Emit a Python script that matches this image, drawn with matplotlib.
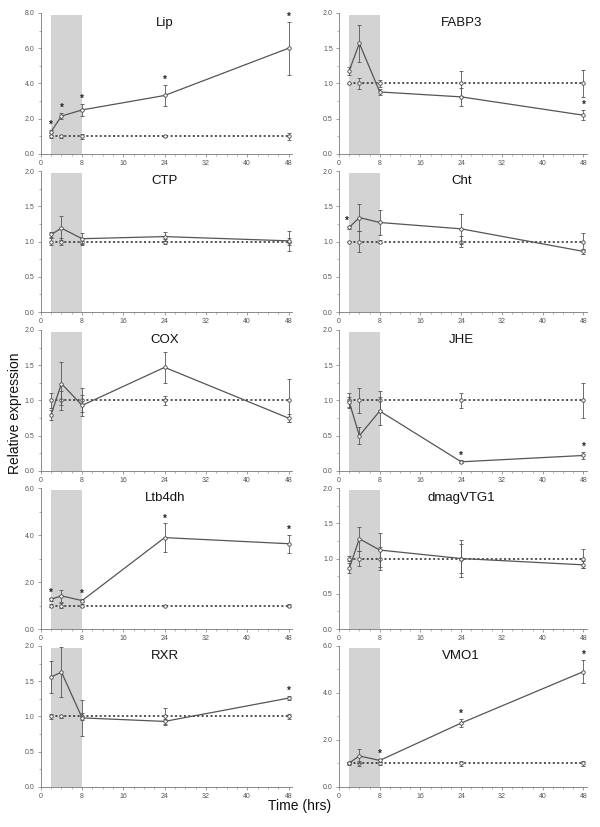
import matplotlib
matplotlib.use("Agg")
import matplotlib.pyplot as plt
from matplotlib.ticker import MultipleLocator, FormatStrFormatter

time_hrs = [2, 4, 8, 24, 48]
ctrl_mean = [1.0, 1.0, 1.0, 1.0, 1.0]
x_ticks = [0, 8, 16, 24, 32, 40, 48]

genes = ["Lip", "FABP3", "CTP", "Cht", "COX", "JHE", "Ltb4dh", "dmagVTG1", "RXR", "VMO1"]
y_max = [8.0, 2.0, 2.0, 2.0, 2.0, 2.0, 6.0, 2.0, 2.0, 6.0]

lip_mean = [1.27, 2.15, 2.5, 3.32, 6.0]
lip_err = [0.1, 0.18, 0.35, 0.6, 1.5]
lip_ctrl_err = [0.08, 0.1, 0.15, 0.04, 0.2]
lip_sig = [1, 1, 1, 1, 1]

fabp3_mean = [1.18, 1.57, 0.88, 0.81, 0.55]
fabp3_err = [0.06, 0.26, 0.04, 0.13, 0.07]
fabp3_ctrl_err = [0.01, 0.08, 0.05, 0.18, 0.19]
fabp3_sig = [0, 0, 0, 0, 1]

ctp_mean = [1.10, 1.19, 1.04, 1.07, 1.01]
ctp_err = [0.03, 0.17, 0.08, 0.06, 0.14]
ctp_ctrl_err = [0.05, 0.05, 0.05, 0.03, 0.05]
ctp_sig = [0, 0, 0, 0, 0]

cht_mean = [1.20, 1.34, 1.27, 1.18, 0.86]
cht_err = [0.02, 0.19, 0.18, 0.21, 0.04]
cht_ctrl_err = [0.01, 0.15, 0.02, 0.08, 0.12]
cht_sig = [1, 0, 0, 0, 0]

cox_mean = [0.80, 1.24, 0.93, 1.47, 0.75]
cox_err = [0.07, 0.3, 0.15, 0.22, 0.06]
cox_ctrl_err = [0.1, 0.13, 0.17, 0.07, 0.31]
cox_sig = [0, 0, 0, 0, 0]

jhe_mean = [0.98, 0.50, 0.85, 0.13, 0.22]
jhe_err = [0.07, 0.12, 0.2, 0.02, 0.05]
jhe_ctrl_err = [0.11, 0.18, 0.14, 0.11, 0.25]
jhe_sig = [0, 0, 0, 1, 1]

ltb4dh_mean = [1.27, 1.41, 1.21, 3.89, 3.63]
ltb4dh_err = [0.06, 0.24, 0.06, 0.6, 0.38]
ltb4dh_ctrl_err = [0.05, 0.1, 0.08, 0.04, 0.05]
ltb4dh_sig = [1, 0, 1, 1, 1]

vtg_mean = [0.86, 1.28, 1.12, 1.0, 0.91]
vtg_err = [0.07, 0.17, 0.24, 0.26, 0.05]
vtg_ctrl_err = [0.03, 0.1, 0.17, 0.2, 0.14]
vtg_sig = [0, 0, 0, 0, 0]

rxr_mean = [1.56, 1.63, 0.98, 0.93, 1.26]
rxr_err = [0.22, 0.36, 0.25, 0.03, 0.03]
rxr_ctrl_err = [0.03, 0.02, 0.05, 0.12, 0.03]
rxr_sig = [0, 0, 0, 0, 1]

vmo1_mean = [1.02, 1.32, 1.13, 2.72, 4.91]
vmo1_err = [0.03, 0.3, 0.05, 0.17, 0.5]
vmo1_ctrl_err = [0.05, 0.12, 0.05, 0.1, 0.1]
vmo1_sig = [0, 0, 1, 1, 1]

treat_means = [lip_mean, fabp3_mean, ctp_mean, cht_mean, cox_mean,
               jhe_mean, ltb4dh_mean, vtg_mean, rxr_mean, vmo1_mean]
treat_errs = [lip_err, fabp3_err, ctp_err, cht_err, cox_err,
              jhe_err, ltb4dh_err, vtg_err, rxr_err, vmo1_err]
ctrl_errs = [lip_ctrl_err, fabp3_ctrl_err, ctp_ctrl_err, cht_ctrl_err, cox_ctrl_err,
             jhe_ctrl_err, ltb4dh_ctrl_err, vtg_ctrl_err, rxr_ctrl_err, vmo1_ctrl_err]
sigs = [lip_sig, fabp3_sig, ctp_sig, cht_sig, cox_sig,
        jhe_sig, ltb4dh_sig, vtg_sig, rxr_sig, vmo1_sig]

fig = plt.figure(figsize=(6.0, 8.27), dpi=100)
plt.rcParams['font.family'] = ['Liberation Sans', 'DejaVu Sans']

lefts = [0.068, 0.565]
widths = [0.418, 0.4125]
bottoms = [0.8138, 0.6227, 0.4305, 0.2394, 0.0484]
height = 0.1705
axis_gray = "#777777"

for i, gene in enumerate(genes):
    r, c = divmod(i, 2)
    ax = fig.add_axes([lefts[c], bottoms[r], widths[c], height])
    ym = y_max[i]
    ax.set_xlim(0, 48.6)
    ax.set_ylim(0, ym)
    ax.axvspan(2, 8, ymin=0, ymax=0.985, color="#d3d3d3", lw=0, zorder=0)
    # control
    ax.errorbar(time_hrs, ctrl_mean, yerr=ctrl_errs[i], color="#222222", ls=(0, (1.3, 1.6)),
                lw=1.1, marker="o", ms=2.5, mfc="white", mec="#444444", mew=0.6,
                ecolor="#555555", elinewidth=0.6, capsize=1.5, capthick=0.6, zorder=3)
    # treatment
    ax.errorbar(time_hrs, treat_means[i], yerr=treat_errs[i], color="#555555", ls="-",
                lw=0.9, marker="o", ms=2.5, mfc="white", mec="#444444", mew=0.6,
                ecolor="#555555", elinewidth=0.6, capsize=1.5, capthick=0.6, zorder=4)
    for t, m, e, s in zip(time_hrs, treat_means[i], treat_errs[i], sigs[i]):
        if s:
            off = 0.035 * ym
            xs = t
            if gene == "Cht" and t == 2:
                xs = t - 0.4
            ax.text(xs, m + e + off, "*", ha="center", va="center", fontsize=7,
                    fontweight="bold", color="#222222", zorder=5)
    ax.text(24, ym * 0.93, gene, ha="center", va="center", fontsize=9.5, color="#111111")
    for sp in ["top", "right"]:
        ax.spines[sp].set_visible(False)
    for sp in ["left", "bottom"]:
        ax.spines[sp].set_color(axis_gray)
        ax.spines[sp].set_linewidth(0.6)
    ax.set_xticks(x_ticks)
    ax.xaxis.set_minor_locator(MultipleLocator(2))
    if ym == 2.0:
        ax.yaxis.set_major_locator(MultipleLocator(0.5))
        ax.yaxis.set_minor_locator(MultipleLocator(0.25))
    else:
        ax.yaxis.set_major_locator(MultipleLocator(2.0))
        ax.yaxis.set_minor_locator(MultipleLocator(1.0))
    ax.yaxis.set_major_formatter(FormatStrFormatter("%.1f"))
    ax.tick_params(which="major", length=2.5, width=0.5, color=axis_gray,
                   labelsize=5, labelcolor="#555555", pad=2)
    ax.tick_params(which="minor", length=1.5, width=0.4, color=axis_gray)

fig.text(0.025, 0.5, "Relative expression", rotation=90, ha="center", va="center",
         fontsize=10, color="#111111")
fig.text(0.5, 0.025, "Time (hrs)", ha="center", va="center", fontsize=10, color="#111111")

fig.savefig("out.png", dpi=100)
